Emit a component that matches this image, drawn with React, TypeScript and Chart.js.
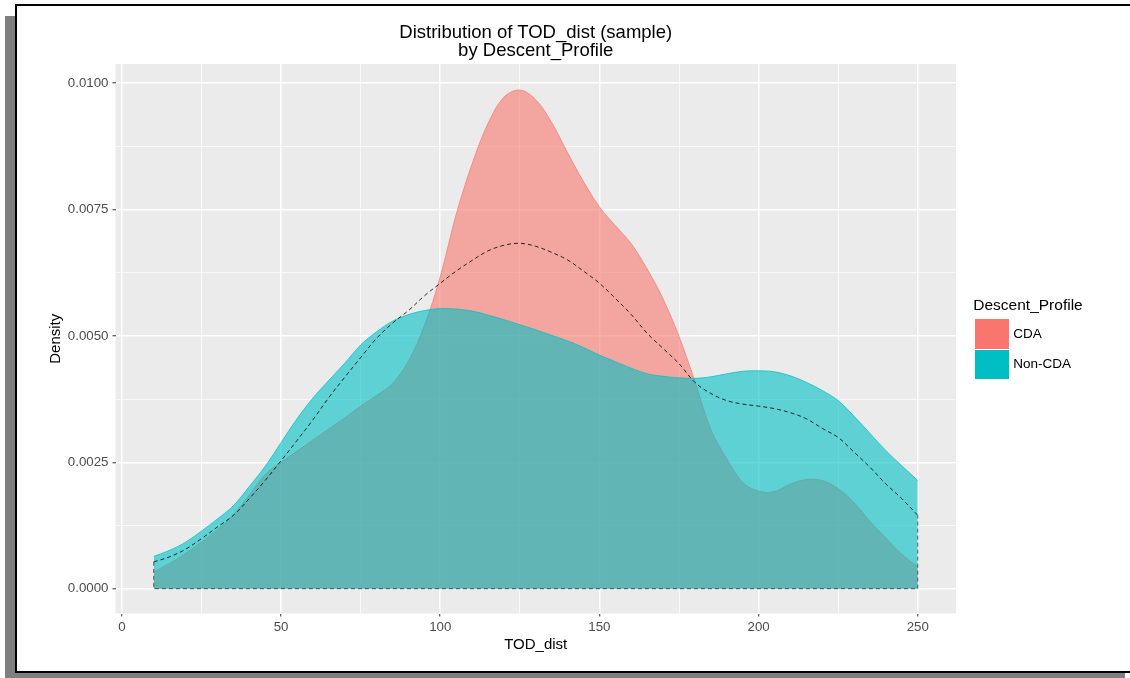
import React, { useEffect, useRef } from "react";
import { Chart, registerables } from "chart.js";

Chart.register(...registerables);

// ---- data ----
const TOD_DIST = [
  10, 15, 20, 25, 30, 35, 40, 45, 50, 55, 60, 65, 70, 75, 80, 85, 90, 95, 100,
  105, 110, 115, 120, 125, 130, 135, 140, 145, 150, 155, 160, 165, 170, 175,
  180, 185, 190, 195, 200, 205, 210, 215, 220, 225, 230, 235, 240, 245, 250,
];

const CDA_DENSITY = [
  0.00033, 0.0005, 0.0007, 0.00092, 0.00117, 0.00146, 0.00185, 0.00226, 0.0025,
  0.00272, 0.00294, 0.00316, 0.00338, 0.00361, 0.00382, 0.00406, 0.0045, 0.0052,
  0.00617, 0.0074, 0.0084, 0.0092, 0.00972, 0.00986, 0.00967, 0.00922, 0.00862,
  0.00805, 0.00755, 0.00718, 0.00682, 0.00632, 0.00573, 0.00499, 0.0041,
  0.00315, 0.00257, 0.0021, 0.00193, 0.00192, 0.00207, 0.00216, 0.00214,
  0.00198, 0.0017, 0.00133, 0.001, 0.00068, 0.00044,
];

const NON_CDA_DENSITY = [
  0.00064, 0.00076, 0.00092, 0.00114, 0.00138, 0.00164, 0.00202, 0.00242,
  0.00289, 0.00336, 0.00377, 0.00412, 0.00446, 0.00482, 0.00508, 0.00529,
  0.00542, 0.0055, 0.00554, 0.00553, 0.00549, 0.00541, 0.00532, 0.00522,
  0.00512, 0.00501, 0.0049, 0.00477, 0.00462, 0.00449, 0.00436, 0.00425,
  0.0042, 0.00417, 0.00416, 0.00419, 0.00425, 0.0043, 0.00431, 0.00429,
  0.00421, 0.00408, 0.00392, 0.00372, 0.00341, 0.00307, 0.00273, 0.00243,
  0.00214,
];

const ALL_DENSITY = [
  0.00053, 0.00063, 0.00078, 0.00099, 0.00122, 0.00145, 0.00178, 0.00214,
  0.00253, 0.00293, 0.00334, 0.00378, 0.00418, 0.00457, 0.00495, 0.00525,
  0.0055, 0.00579, 0.00604, 0.00628, 0.00649, 0.00668, 0.00679, 0.00683,
  0.00677, 0.00665, 0.0065, 0.00628, 0.00604, 0.00574, 0.00542, 0.00505,
  0.00475, 0.00445, 0.00408, 0.00386, 0.00372, 0.00365, 0.00361, 0.00356,
  0.00348, 0.00336, 0.00317, 0.00299, 0.0027, 0.0024, 0.00207, 0.00178,
  0.00145,
];

const SERIES_NAMES = ["CDA", "Non-CDA"];
const X_MAJOR_TICKS = [0, 50, 100, 150, 200, 250];
const X_MINOR_TICKS = [25, 75, 125, 175, 225];
const Y_MAJOR_TICKS = [0, 0.0025, 0.005, 0.0075, 0.01];
const Y_MINOR_TICKS = [0.00125, 0.00375, 0.00625, 0.00875];
const X_LIMITS = [-2, 262];
const Y_LIMITS = [-0.00049, 0.010375];

const TITLE_LINES = ["Distribution of TOD_dist (sample)", "by Descent_Profile"];
const X_TITLE = "TOD_dist";
const Y_TITLE = "Density";
const LEGEND_TITLE = "Descent_Profile";

// ---- styles ----
const FONT = '"Liberation Sans", Arial, Helvetica, sans-serif';
const RED = "#F8766D";
const TEAL = "#00BFC4";
const RED_FILL = "rgba(248,118,109,0.6)";
const TEAL_FILL = "rgba(0,191,196,0.6)";
const CURVE_TENSION = 0.35;

const isIn = (arr: number[], v: number) => arr.some((a) => Math.abs(a - v) < 1e-9);

export default function App() {
  const canvasRef = useRef<HTMLCanvasElement | null>(null);

  useEffect(() => {
    if (!canvasRef.current) return;
    const toPts = (ys: number[]) => TOD_DIST.map((x, i) => ({ x, y: ys[i] }));
    const last = TOD_DIST.length - 1;
    const edges = [
      { x: TOD_DIST[0], y: ALL_DENSITY[0] },
      { x: TOD_DIST[0], y: 0 },
      { x: TOD_DIST[last], y: 0 },
      { x: TOD_DIST[last], y: ALL_DENSITY[last] },
    ];

    const panelBg = {
      id: "panelBg",
      beforeDraw(chart: any) {
        const { ctx, chartArea } = chart;
        ctx.save();
        ctx.fillStyle = "#EBEBEB";
        ctx.fillRect(
          chartArea.left,
          chartArea.top,
          chartArea.right - chartArea.left,
          chartArea.bottom - chartArea.top
        );
        ctx.restore();
      },
    };

    const xTicks = [...X_MAJOR_TICKS, ...X_MINOR_TICKS].sort((a, b) => a - b);
    const yTicks = [...Y_MAJOR_TICKS, ...Y_MINOR_TICKS].sort((a, b) => a - b);

    const chart = new Chart(canvasRef.current, {
      type: "line",
      data: {
        datasets: [
          {
            label: "all",
            data: toPts(ALL_DENSITY),
            borderColor: "rgba(0,0,0,0.8)",
            borderWidth: 1,
            borderDash: [4, 3],
            pointRadius: 0,
            fill: false,
            tension: CURVE_TENSION,
          },
          {
            label: "all-edges",
            data: edges,
            borderColor: "rgba(0,0,0,0.6)",
            borderWidth: 1,
            borderDash: [4, 3],
            pointRadius: 0,
            fill: false,
            tension: 0,
          },
          {
            label: SERIES_NAMES[1],
            data: toPts(NON_CDA_DENSITY),
            borderColor: "rgba(0,191,196,0.7)",
            backgroundColor: TEAL_FILL,
            borderWidth: 1,
            pointRadius: 0,
            fill: "origin",
            tension: CURVE_TENSION,
          },
          {
            label: SERIES_NAMES[0],
            data: toPts(CDA_DENSITY),
            borderColor: "rgba(248,118,109,0.7)",
            backgroundColor: RED_FILL,
            borderWidth: 1,
            pointRadius: 0,
            fill: "origin",
            tension: CURVE_TENSION,
          },
        ],
      },
      options: {
        responsive: false,
        animation: false,
        devicePixelRatio: 1,
        layout: { padding: { left: 0, top: 64, right: 174, bottom: 0 } },
        plugins: {
          legend: { display: false },
          tooltip: { enabled: false },
          title: { display: false },
        },
        scales: {
          x: {
            type: "linear",
            min: X_LIMITS[0],
            max: X_LIMITS[1],
            afterBuildTicks: (s: any) => {
              s.ticks = xTicks.map((value) => ({ value }));
            },
            afterFit: (s: any) => {
              s.height = 64.5;
            },
            border: { display: false },
            grid: {
              color: "#FFFFFF",
              lineWidth: (ctx: any) => (ctx.tick && isIn(X_MAJOR_TICKS, ctx.tick.value) ? 1.5 : 0.7),
              tickColor: (ctx: any) => (ctx.tick && isIn(X_MAJOR_TICKS, ctx.tick.value) ? "#333333" : "rgba(0,0,0,0)"),
              tickLength: 3,
              tickWidth: 1,
            },
            ticks: {
              autoSkip: false,
              maxRotation: 0,
              padding: 3,
              color: "#4D4D4D",
              font: { family: FONT, size: 13.3 },
              callback: (v: any) => (isIn(X_MAJOR_TICKS, Number(v)) ? String(v) : ""),
            },
            title: {
              display: true,
              text: X_TITLE,
              color: "#000000",
              font: { family: FONT, size: 15 },
              padding: { top: 0, bottom: 24 },
            },
          },
          y: {
            type: "linear",
            min: Y_LIMITS[0],
            max: Y_LIMITS[1],
            afterBuildTicks: (s: any) => {
              s.ticks = yTicks.map((value) => ({ value }));
            },
            afterFit: (s: any) => {
              s.width = 115.5;
            },
            border: { display: false },
            grid: {
              color: "#FFFFFF",
              lineWidth: (ctx: any) => (ctx.tick && isIn(Y_MAJOR_TICKS, ctx.tick.value) ? 1.5 : 0.7),
              tickColor: (ctx: any) => (ctx.tick && isIn(Y_MAJOR_TICKS, ctx.tick.value) ? "#333333" : "rgba(0,0,0,0)"),
              tickLength: 3,
              tickWidth: 1,
            },
            ticks: {
              autoSkip: false,
              padding: 4,
              color: "#4D4D4D",
              font: { family: FONT, size: 13.3 },
              callback: (v: any) => (isIn(Y_MAJOR_TICKS, Number(v)) ? Number(v).toFixed(4) : ""),
            },
            title: {
              display: true,
              text: Y_TITLE,
              color: "#000000",
              font: { family: FONT, size: 15 },
              padding: { top: 47, bottom: 0 },
            },
          },
        },
      } as any,
      plugins: [panelBg],
    });
    return () => chart.destroy();
  }, []);

  const abs = (s: React.CSSProperties): React.CSSProperties => ({ position: "absolute", ...s });

  return (
    <div
      style={abs({
        left: 0,
        top: 0,
        width: 1130,
        height: 678,
        overflow: "hidden",
        background: "#FFFFFF",
        fontFamily: FONT,
      })}
    >
      {/* frame shadow */}
      <div style={abs({ left: 5, top: 16, width: 10, height: 662, background: "#7F7F7F" })} />
      <div style={abs({ left: 5, top: 673, width: 1120, height: 5, background: "#7F7F7F" })} />
      {/* frame */}
      <div
        style={abs({
          left: 15,
          top: 4,
          width: 1130,
          height: 669,
          boxSizing: "border-box",
          borderTop: "2px solid #000",
          borderLeft: "2px solid #000",
          borderBottom: "2px solid #000",
          background: "#FFFFFF",
        })}
      />
      <canvas ref={canvasRef} width={1130} height={678} style={abs({ left: 0, top: 0, width: 1130, height: 678 })} />
      {/* title */}
      <div
        style={abs({
          left: 115.5,
          top: 23.2,
          width: 840.5,
          textAlign: "center",
          fontSize: 18.5,
          lineHeight: "17.4px",
          color: "#000",
          whiteSpace: "nowrap",
        })}
      >
        {TITLE_LINES.map((t) => (
          <div key={t}>{t}</div>
        ))}
      </div>
      {/* legend */}
      <div style={abs({ left: 973.3, top: 296, fontSize: 15.5, lineHeight: "18px", color: "#000", whiteSpace: "nowrap" })}>
        {LEGEND_TITLE}
      </div>
      {SERIES_NAMES.map((name, i) => (
        <React.Fragment key={name}>
          <div
            style={abs({
              left: 975,
              top: 319 + i * 30.5,
              width: 34.3,
              height: 29.5,
              background: i === 0 ? RED : TEAL,
            })}
          />
          <div
            style={abs({
              left: 1013.3,
              top: 319 + i * 30.5 + 6.5,
              fontSize: 13.5,
              lineHeight: "16px",
              color: "#000",
              whiteSpace: "nowrap",
            })}
          >
            {name}
          </div>
        </React.Fragment>
      ))}
    </div>
  );
}
